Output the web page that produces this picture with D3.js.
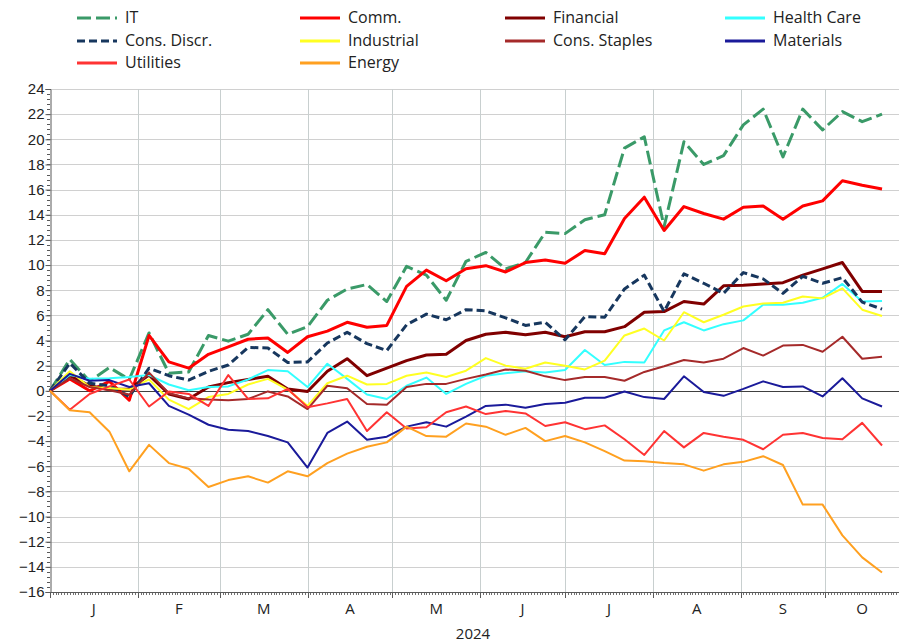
<!DOCTYPE html>
<html><head><meta charset="utf-8">
<script src="https://cdn.jsdelivr.net/npm/d3@7"></script>
<style>
body{margin:0;background:#fff;}
text{font-family:"Liberation Sans Narrow","Arial Narrow","Open Sans",sans-serif;fill:#222;}
</style></head>
<body><svg id="c" width="904" height="642"></svg>
<script>
const seriesNames = ["IT","Comm.","Financial","Health Care","Cons. Discr.","Industrial","Cons. Staples","Materials","Utilities","Energy"];
const startDate = "2024-01-01";
const nWeeks = 43;
const monthLabels = ["J","F","M","A","M","J","J","A","S","O"];
const yearLabel = "2024";
const yTicks = [24,22,20,18,16,14,12,10,8,6,4,2,0,-2,-4,-6,-8,-10,-12,-14,-16];

const IT = [0,2.5,0.75,1.85,0.9,4.6,1.4,1.5,4.4,3.95,4.5,6.45,4.5,5.1,7.2,8.1,8.45,7.1,9.9,9.2,7.2,10.3,11.0,9.7,10.2,12.6,12.5,13.6,14.0,19.3,20.2,13.05,19.8,18.0,18.7,21.15,22.4,18.6,22.4,20.75,22.2,21.4,22.0];
const Comm = [0,0.95,0.0,0.75,-0.75,4.4,2.3,1.8,2.9,3.5,4.1,4.2,3.05,4.3,4.75,5.45,5.05,5.2,8.3,9.6,8.75,9.7,9.95,9.45,10.2,10.4,10.15,11.15,10.9,13.7,15.4,12.75,14.65,14.1,13.65,14.6,14.7,13.65,14.7,15.1,16.7,16.35,16.05];
const Financial = [0,1.2,0.4,0.1,0.15,1.25,-0.25,-0.65,0.3,0.65,0.9,1.15,0.15,-0.05,1.55,2.55,1.2,1.8,2.4,2.85,2.9,4.0,4.5,4.65,4.45,4.65,4.3,4.7,4.7,5.1,6.25,6.3,7.1,6.9,8.35,8.4,8.5,8.6,9.2,9.7,10.2,7.9,7.9];
const HealthCare = [0,1.25,0.95,1.0,1.1,1.25,0.5,0.05,0.3,0.35,0.9,1.65,1.55,0.3,2.15,0.95,-0.3,-0.65,0.4,1.05,-0.25,0.55,1.2,1.4,1.55,1.45,1.65,3.25,2.05,2.3,2.25,4.8,5.45,4.8,5.3,5.6,6.85,6.85,7.0,7.4,8.5,7.1,7.15];
const ConsDiscr = [0,2.2,0.6,0.4,-0.45,1.8,1.2,0.85,1.55,2.05,3.45,3.4,2.25,2.3,3.8,4.65,3.75,3.2,5.25,6.1,5.65,6.45,6.35,5.8,5.2,5.45,4.05,5.9,5.85,8.1,9.2,6.3,9.3,8.55,7.75,9.4,8.9,7.75,9.1,8.55,9.0,7.05,6.5];
const Industrial = [0,1.55,0.3,0.2,0.1,0.9,-0.7,-1.45,-0.5,-0.25,0.5,0.95,0.1,-1.2,0.6,1.2,0.5,0.55,1.2,1.45,1.1,1.6,2.6,2.0,1.75,2.25,2.0,1.7,2.4,4.4,4.95,4.0,6.25,5.45,6.05,6.7,6.95,7.0,7.5,7.35,8.15,6.45,5.95];
const ConsStaples = [0,1.0,0.3,0.05,-0.3,1.45,-0.2,-0.6,-0.7,-0.75,-0.65,-0.05,-0.45,-1.45,0.4,0.2,-1.05,-1.1,0.3,0.55,0.55,0.95,1.3,1.7,1.6,1.15,0.85,1.1,1.1,0.8,1.5,1.95,2.45,2.25,2.55,3.4,2.8,3.6,3.65,3.1,4.3,2.55,2.7];
const Materials = [0,1.35,0.8,0.85,0.3,0.6,-1.2,-1.9,-2.7,-3.1,-3.2,-3.6,-4.1,-6.1,-3.35,-2.45,-3.9,-3.65,-2.85,-2.5,-2.85,-2.05,-1.2,-1.1,-1.35,-1.05,-0.95,-0.55,-0.55,-0.05,-0.5,-0.65,1.15,-0.1,-0.4,0.15,0.75,0.3,0.35,-0.45,1.0,-0.6,-1.25];
const Utilities = [0,-1.5,-0.25,0.35,0.9,-1.25,-0.05,-0.25,-1.2,1.25,-0.65,-0.6,0.15,-1.3,-1.0,-0.65,-3.2,-1.7,-3.0,-2.9,-1.7,-1.25,-1.85,-1.6,-1.8,-2.8,-2.5,-3.05,-2.75,-3.85,-5.1,-3.2,-4.5,-3.35,-3.65,-3.9,-4.65,-3.5,-3.35,-3.75,-3.85,-2.55,-4.35];
const Energy = [0,-1.55,-1.7,-3.25,-6.4,-4.3,-5.75,-6.2,-7.65,-7.1,-6.8,-7.3,-6.4,-6.8,-5.75,-5.0,-4.45,-4.1,-2.85,-3.6,-3.65,-2.6,-2.85,-3.5,-2.95,-4.0,-3.6,-4.1,-4.8,-5.55,-5.6,-5.75,-5.85,-6.35,-5.85,-5.65,-5.2,-5.9,-9.05,-9.05,-11.5,-13.25,-14.45];

const seriesValues = [IT,Comm,Financial,HealthCare,ConsDiscr,Industrial,ConsStaples,Materials,Utilities,Energy];
const styles = [
  {color:"#3a9a68",w:3,dash:"14,5"},
  {color:"#ff0000",w:3,dash:null},
  {color:"#800000",w:3,dash:null},
  {color:"#33ffff",w:2,dash:null},
  {color:"#17375e",w:3,dash:"8,4"},
  {color:"#ffff22",w:2,dash:null},
  {color:"#a52a2a",w:2,dash:null},
  {color:"#1a1a9a",w:2,dash:null},
  {color:"#ff3333",w:2,dash:null},
  {color:"#ffa020",w:2,dash:null}
];

(function(){
const svg = d3.select("#c");
const parse = d3.timeParse("%Y-%m-%d");
const d0 = parse(startDate);
const dates = d3.range(nWeeks).map(i => d3.timeDay.offset(d0, 7*i));
const dEnd = parse("2024-10-27");

const pL=50, pR=899, pT=89, pB=592;
const x = d3.scaleTime().domain([d0, dEnd]).range([pL, pR]);
const y = d3.scaleLinear().domain([-16, 24]).range([pB, pT]);

const months = d3.timeMonth.range(d0, dEnd);
svg.append("g").selectAll("line").data(yTicks).join("line")
  .attr("x1", pL).attr("x2", pR).attr("y1", d=>Math.round(y(d))+0.5).attr("y2", d=>Math.round(y(d))+0.5)
  .attr("stroke", "#d0d0d0").attr("stroke-width", 1);
svg.append("g").selectAll("line").data(months.slice(1)).join("line")
  .attr("x1", d=>Math.round(x(d))+0.5).attr("x2", d=>Math.round(x(d))+0.5).attr("y1", pT).attr("y2", pB)
  .attr("stroke", "#c8cfcf").attr("stroke-width", 1);

svg.append("line").attr("x1", pL).attr("x2", pR).attr("y1", Math.round(y(0))+0.5).attr("y2", Math.round(y(0))+0.5)
  .attr("stroke", "#404040").attr("stroke-width", 1);

const yAxis = d3.axisLeft(y).tickValues(yTicks).tickSize(5).tickFormat(d3.format("d"));
const gy = svg.append("g").attr("transform", `translate(${pL+0.5},0)`).call(yAxis);
gy.select(".domain").attr("stroke", "#595959");
gy.selectAll(".tick line").attr("stroke", "#595959");
gy.selectAll(".tick text").attr("font-size", 15).attr("x", -6)
  .style("font-family", '"Liberation Sans Narrow","Arial Narrow",sans-serif').attr("fill", "#222");
const yMinor = d3.range(-16, 24.001, 0.4);
svg.append("g").selectAll("line").data(yMinor).join("line")
  .attr("x1", pL-3).attr("x2", pL).attr("y1", d=>Math.round(y(d))+0.5).attr("y2", d=>Math.round(y(d))+0.5)
  .attr("stroke", "#595959").attr("stroke-width", 1);

const days = d3.timeDay.range(d0, dEnd);
svg.append("g").selectAll("line").data(days).join("line")
  .attr("x1", d=>Math.round(x(d))+0.5).attr("x2", d=>Math.round(x(d))+0.5).attr("y1", pB).attr("y2", pB+3)
  .attr("stroke", "#707070").attr("stroke-width", 1);
svg.append("g").selectAll("line").data(months).join("line")
  .attr("x1", d=>Math.round(x(d))+0.5).attr("x2", d=>Math.round(x(d))+0.5).attr("y1", pB).attr("y2", pB+6)
  .attr("stroke", "#595959").attr("stroke-width", 1);
svg.append("line").attr("x1", pL).attr("x2", pR).attr("y1", pB+0.5).attr("y2", pB+0.5)
  .attr("stroke", "#595959");
const monthEnds = months.map((m,i)=> i<months.length-1 ? months[i+1] : dEnd);
svg.append("g").selectAll("text").data(months).join("text")
  .attr("x", (d,i)=> (x(d)+x(monthEnds[i]))/2).attr("y", 614)
  .attr("text-anchor","middle").attr("font-size", 15).text((d,i)=>monthLabels[i]);
svg.append("text").attr("x", 473).attr("y", 639).attr("text-anchor","middle").attr("font-size", 15).text(yearLabel);

const line = d3.line().x((d,i)=>x(dates[i])).y(d=>y(d));
seriesValues.forEach((vals, k) => {
  const s = styles[k];
  svg.append("path").datum(vals).attr("d", line)
    .attr("fill","none").attr("stroke", s.color).attr("stroke-width", s.w)
    .attr("stroke-linejoin","round")
    .attr("stroke-dasharray", s.dash);
});

const legX = [77, 300, 505, 725];
const legY = [18, 41, 63];
seriesNames.forEach((name, k) => {
  const cx = legX[k%4], cy = legY[Math.floor(k/4)];
  const s = styles[k];
  svg.append("line").attr("x1", cx).attr("x2", cx+40).attr("y1", cy).attr("y2", cy)
    .attr("stroke", s.color).attr("stroke-width", 3).attr("stroke-dasharray", s.dash);
  svg.append("text").attr("x", cx+48).attr("y", cy+5).attr("font-size", 16).text(name);
});
})();
</script></body></html>
